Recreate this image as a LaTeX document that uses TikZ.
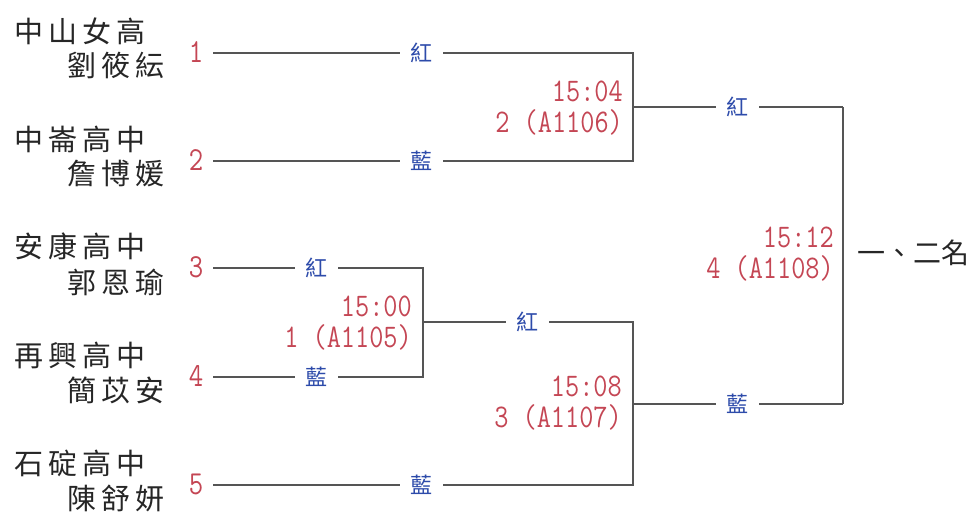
\documentclass[tikz,border=0pt]{standalone}
\usepackage{fontspec}
\newfontfamily\cjk{Noto Sans CJK TC}
\newfontfamily\cjkls[LetterSpace=18]{Noto Sans CJK TC}
\definecolor{brk}{RGB}{85,85,85}
\definecolor{tred}{RGB}{196,70,84}
\definecolor{tblue}{RGB}{45,75,170}
\newcommand{\tall}[1]{\scalebox{1}[1.2]{#1}}
\tikzset{
  school/.style={anchor=west,inner sep=0pt,font=\cjkls\fontsize{29}{30}\selectfont,text=black!85},
  player/.style={school},
  seed/.style={inner sep=0pt,minimum width=34pt,text=tred,font=\ttfamily\fontsize{28}{30}\selectfont},
  corner/.style={tblue,fill=white,inner sep=0pt,minimum width=43pt,minimum height=26pt,font=\cjk\fontsize{22}{24}\selectfont},
  matchinfo/.style={anchor=east,align=right,inner sep=0pt,text=tred,font=\ttfamily\fontsize{27.5}{31}\selectfont},
  bline/.style={draw=brk,line width=1.2pt},
}
\begin{document}
\begin{tikzpicture}[x=1pt,y=-1pt]
\useasboundingbox (0,0) rectangle (976,515);
% teams
\node[school] (s1) at (14,31) {中山女高};
\node[player] (p1) at (67,65) {劉筱紜};
\node[school] (s2) at (14,139) {中崙高中};
\node[player] (p2) at (67,174) {詹博媛};
\node[school] (s3) at (14,246) {安康高中};
\node[player] (p3) at (67,282) {郭恩瑜};
\node[school] (s4) at (14,355) {再興高中};
\node[player] (p4) at (67,390) {簡苡安};
\node[school] (s5) at (14,463) {石碇高中};
\node[player] (p5) at (67,498) {陳舒妍};
% seeds
\node[seed] (n1) at (196,52) {\tall{1}};
\node[seed] (n2) at (196,160) {\tall{2}};
\node[seed] (n3) at (196,267) {\tall{3}};
\node[seed] (n4) at (196,376) {\tall{4}};
\node[seed] (n5) at (196,484) {\tall{5}};
% junctions
\coordinate (a1) at (633,53);
\coordinate (a2) at (633,161);
\coordinate (am) at (633,107);
\coordinate (b3) at (423,268);
\coordinate (b4) at (423,377);
\coordinate (bm) at (423,322);
\coordinate (c1) at (633,322);
\coordinate (c5) at (633,485);
\coordinate (cm) at (633,404);
\coordinate (d1) at (843,107);
\coordinate (d2) at (843,404);
% bracket lines
\draw[bline] (n1.east |- a1) -- (a1) -- (a2) -- (n2.east |- a2);
\draw[bline] (am) -- (d1);
\draw[bline] (n3.east |- b3) -- (b3) -- (b4) -- (n4.east |- b4);
\draw[bline] (bm) -- (c1) -- (c5) -- (n5.east |- c5);
\draw[bline] (cm) -- (d2);
\draw[bline] (d1) -- (d2);
% corner labels
\node[corner] (r1) at (421,53) {紅};
\node[corner] (u1) at (421,161) {藍};
\node[corner] (r2) at (316,268) {紅};
\node[corner] (u2) at (316,377) {藍};
\node[corner] (r3) at (527,322) {紅};
\node[corner] (u3) at (421,485) {藍};
\node[corner] (r4) at (737,107) {紅};
\node[corner] (u4) at (737,404) {藍};
% match info
\node[matchinfo] (m2) at (623,108) {\tall{15:04}\\\tall{2 (A1106)}};
\node[matchinfo] (m1) at (412,323) {\tall{15:00}\\\tall{1 (A1105)}};
\node[matchinfo] (m3) at (622,403) {\tall{15:08}\\\tall{3 (A1107)}};
\node[matchinfo] (m4) at (834,254) {\tall{15:12}\\\tall{4 (A1108)}};
% final
\node[anchor=west,inner sep=0pt,font=\cjk\fontsize{28}{30}\selectfont,text=black!85] (fin) at (857,253) {一、二名};
\end{tikzpicture}
\end{document}
